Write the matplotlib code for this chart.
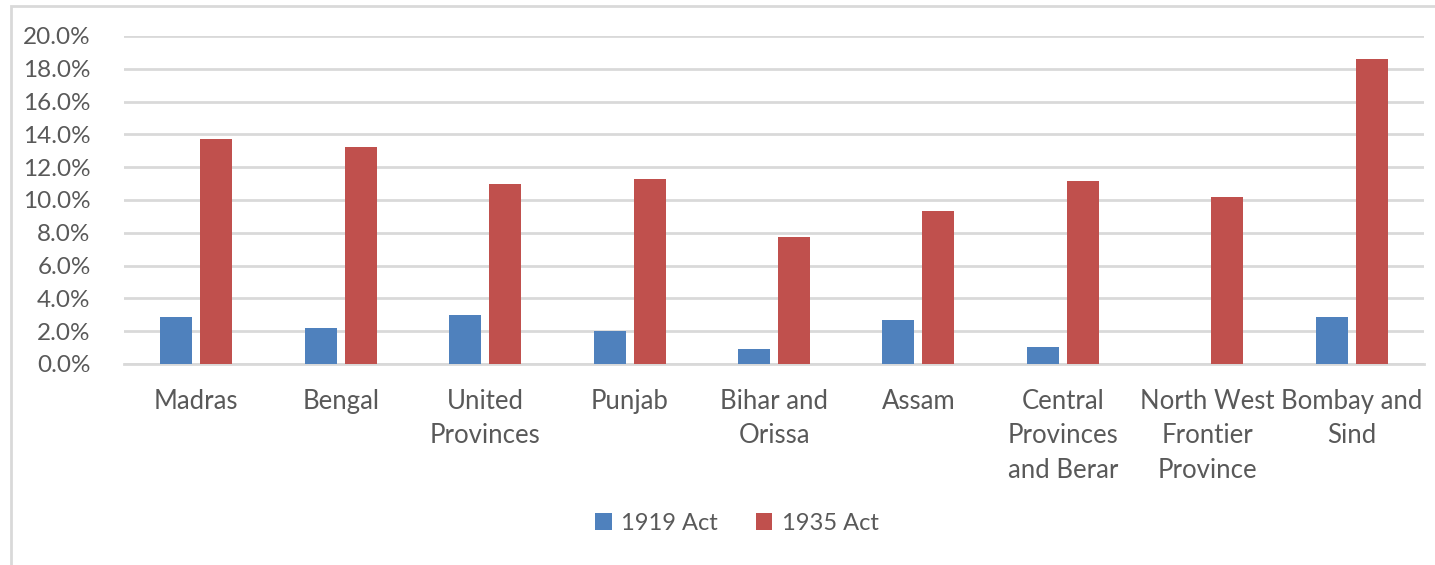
import matplotlib
matplotlib.use("Agg")
import matplotlib.pyplot as plt
import numpy as np
from matplotlib.patches import Rectangle

provinces = ["Madras", "Bengal", "United\nProvinces", "Punjab", "Bihar and\nOrissa",
             "Assam", "Central\nProvinces\nand Berar", "North West\nFrontier\nProvince",
             "Bombay and\nSind"]
act_1919 = [2.85, 2.18, 3.0, 2.03, 0.89, 2.68, 1.06, 0.0, 2.85]
act_1935 = [13.74, 13.25, 10.98, 11.3, 7.72, 9.35, 11.14, 10.16, 18.62]

blue = "#4F81BD"
red = "#C0504D"
grey_text = "#595959"

plt.rcParams['font.family'] = ['Lato', 'DejaVu Sans']

fig = plt.figure(figsize=(14.35, 5.65), dpi=100)
ax = fig.add_axes([124/1435, 1 - 364/565, 1300/1435, 328/565])

x = np.arange(len(provinces))
w = 0.222
gap = 0.055
ax.bar(x - (w + gap)/2, act_1919, w, color=blue, label="1919 Act", zorder=3)
ax.bar(x + (w + gap)/2, act_1935, w, color=red, label="1935 Act", zorder=3)

ax.set_xlim(-0.5, len(provinces) - 0.5)
ax.set_ylim(0, 20)
ax.set_yticks(np.arange(0, 21, 2))
ax.set_yticklabels([f"{v:.1f}%" for v in np.arange(0, 21, 2)])
ax.yaxis.grid(True, color="#D9D9D9", linewidth=2, zorder=0)
ax.set_xticks(x)
ax.set_xticklabels(provinces, linespacing=1.47, va="top")
ax.tick_params(axis="both", length=0, colors=grey_text)
ax.tick_params(axis="y", pad=24, labelsize=17.5)
ax.tick_params(axis="x", pad=18, labelsize=18.5)
for s in ["top", "right", "left"]:
    ax.spines[s].set_visible(False)
ax.spines["bottom"].set_color("#D9D9D9")
ax.spines["bottom"].set_linewidth(2)

leg = fig.legend(loc="center", bbox_to_anchor=(737/1435, 1 - 523/565), ncol=2, frameon=False,
                 fontsize=17, handlelength=0.7, handleheight=0.7, handletextpad=0.4,
                 columnspacing=1.6)
for t in leg.get_texts():
    t.set_color(grey_text)

fig.patches.append(Rectangle((11/1435, -0.02), 1.05, 1 - 6/565 + 0.02,
                             transform=fig.transFigure, fill=False,
                             edgecolor="#D9D9D9", linewidth=2))

fig.savefig("out.png", dpi=100, facecolor="white")
